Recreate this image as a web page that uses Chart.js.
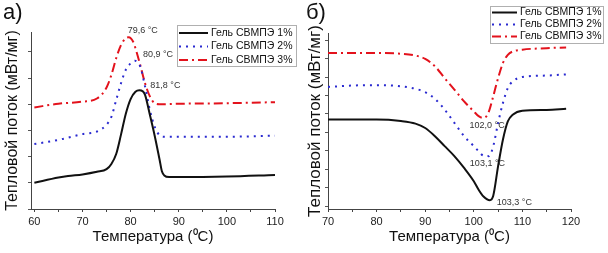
<!DOCTYPE html>
<html>
<head>
<meta charset="utf-8">
<script src="https://cdn.jsdelivr.net/npm/chart.js@4"></script>
<style>
  body { margin: 0; background: #fff; }
  .wrap { display: flex; width: 608px; height: 253px; }
  .panel { position: relative; width: 304px; height: 253px; }
</style>
</head>
<body>
<div class="wrap">
  <div class="panel"><canvas id="chartA" width="304" height="253"></canvas></div>
  <div class="panel"><canvas id="chartB" width="304" height="253"></canvas></div>
</div>
<script>
const seriesLabels = ['Гель СВМПЭ 1%', 'Гель СВМПЭ 2%', 'Гель СВМПЭ 3%'];

// panel а) - heating
const tempA1 = [60, 65, 67, 70, 73, 75, 76, 77, 78, 79, 80, 81, 81.8, 82.5, 83, 84, 85, 86, 86.5, 87, 88, 90, 100, 110];
const flowA1 = [0.50, 0.60, 0.63, 0.66, 0.71, 0.76, 0.86, 1.05, 1.42, 1.82, 2.10, 2.24, 2.27, 2.25, 2.18, 1.80, 1.40, 0.95, 0.72, 0.64, 0.61, 0.61, 0.62, 0.65];
const tempA2 = [60, 65, 70, 73, 75, 76, 77, 78, 79, 80, 80.9, 82, 83, 84, 85, 86, 87, 90, 100, 110];
const flowA2 = [1.24, 1.32, 1.43, 1.48, 1.61, 1.76, 2.08, 2.40, 2.66, 2.78, 2.83, 2.72, 2.34, 1.89, 1.57, 1.41, 1.38, 1.38, 1.38, 1.40];
const tempA3 = [60, 65, 70, 73, 75, 76, 77, 78, 79, 79.6, 80.5, 81, 82, 83, 84, 85, 86, 90, 100, 110];
const flowA3 = [1.94, 2.01, 2.05, 2.11, 2.32, 2.56, 2.88, 3.13, 3.26, 3.28, 3.20, 3.07, 2.75, 2.40, 2.15, 2.02, 2.00, 2.01, 2.02, 2.04];
const xTicksA = [60, 65, 70, 75, 80, 85, 90, 95, 100, 105, 110];
const yTicksA = [0, 0.5, 1, 1.5, 2, 2.5, 3];
const peakTempsA = [81.8, 80.9, 79.6];
const peakFlowsA = [2.27, 2.83, 3.28];
const peakLabelsA = ['81,8 °C', '80,9 °C', '79,6 °C'];

// panel б) - cooling
const tempB1 = [70, 75, 80, 85, 88, 90, 92, 94, 96, 98, 100, 101, 102, 103.3, 104, 105, 106, 107, 108, 110, 115, 119];
const flowB1 = [1.85, 1.85, 1.85, 1.81, 1.74, 1.62, 1.40, 1.13, 0.86, 0.54, 0.18, -0.05, -0.23, -0.33, -0.21, 0.59, 1.31, 1.80, 1.98, 2.09, 2.11, 2.14];
const tempB2 = [70, 75, 80, 85, 88, 90, 92, 94, 96, 98, 100, 101, 102, 103.1, 104, 105, 106, 107, 108, 110, 115, 119];
const flowB2 = [2.73, 2.77, 2.78, 2.75, 2.68, 2.59, 2.41, 2.12, 1.76, 1.40, 1.13, 0.99, 0.87, 0.86, 1.13, 1.76, 2.30, 2.70, 2.88, 3.00, 3.04, 3.07];
const tempB3 = [70, 75, 80, 85, 88, 90, 92, 94, 96, 98, 100, 101, 102, 103, 104, 105, 106, 107, 108, 110, 115, 119];
const flowB3 = [3.65, 3.65, 3.65, 3.63, 3.58, 3.49, 3.29, 2.97, 2.66, 2.34, 2.07, 1.94, 1.89, 2.03, 2.48, 2.97, 3.38, 3.60, 3.69, 3.74, 3.78, 3.80];
const xTicksB = [70, 75, 80, 85, 90, 95, 100, 105, 110, 115, 120];
const yTicksB = [-0.5, 0, 0.5, 1, 1.5, 2, 2.5, 3, 3.5, 4];
const peakTempsB = [103.3, 103.1, 102.0];
const peakFlowsB = [-0.33, 0.86, 1.89];
const peakLabelsB = ['103,3 °C', '103,1 °C', '102,0 °C'];

Chart.defaults.font.family = "'Liberation Sans', Arial, sans-serif";
Chart.defaults.color = '#222';

const zip = (xs, ys) => xs.map((x, i) => ({ x: x, y: ys[i] }));

const lineStyles = [
  { borderColor: '#111111', borderWidth: 2, borderDash: [] },
  { borderColor: '#2a2ad0', borderWidth: 2, borderDash: [2, 5] },
  { borderColor: '#e3121c', borderWidth: 2, borderDash: [9, 4, 2, 4] }
];

// panel letter, peak labels and the boxed legend
const decorPlugin = {
  id: 'decor',
  afterDraw(chart, args, o) {
    const ctx = chart.ctx;
    const xs = chart.scales.x, ys = chart.scales.y;
    ctx.save();
    ctx.fillStyle = '#111';
    ctx.font = "22px 'Liberation Sans', Arial, sans-serif";
    ctx.textBaseline = 'top';
    ctx.fillText(o.letter, o.letterPos[0], o.letterPos[1]);

    ctx.font = "9px 'Liberation Sans', Arial, sans-serif";
    ctx.fillStyle = '#333';
    ctx.textBaseline = 'middle';
    o.peaks.t.forEach((t, i) => {
      const px = xs.getPixelForValue(t) + o.peaks.off[i][0];
      const py = ys.getPixelForValue(o.peaks.f[i]) + o.peaks.off[i][1];
      ctx.fillText(o.peaks.labels[i], px, py);
    });

    const lg = o.legend;
    ctx.fillStyle = '#fff';
    ctx.fillRect(lg.x, lg.y, lg.w, lg.h);
    ctx.strokeStyle = '#b0b0b0';
    ctx.lineWidth = 1;
    ctx.strokeRect(lg.x + 0.5, lg.y + 0.5, lg.w, lg.h);
    ctx.font = "10.5px 'Liberation Sans', Arial, sans-serif";
    chart.data.datasets.forEach((ds, i) => {
      const ry = lg.y + lg.row0 + i * lg.rowH;
      ctx.beginPath();
      ctx.setLineDash(ds.borderDash);
      ctx.strokeStyle = ds.borderColor;
      ctx.lineWidth = 2;
      ctx.moveTo(lg.x + 2, ry);
      ctx.lineTo(lg.x + 2 + lg.sample, ry);
      ctx.stroke();
      ctx.setLineDash([]);
      ctx.fillStyle = '#111';
      ctx.fillText(ds.label, lg.x + lg.sample + 5, ry);
    });
    ctx.restore();
  }
};

function makeChart(id, p) {
  return new Chart(document.getElementById(id), {
    type: 'line',
    data: {
      datasets: p.series.map((s, i) => Object.assign({
        label: seriesLabels[i],
        data: zip(s[0], s[1]),
        fill: false,
        pointRadius: 0,
        tension: 0.35,
        cubicInterpolationMode: 'monotone'
      }, lineStyles[i]))
    },
    options: {
      responsive: false,
      animation: false,
      layout: { padding: p.padding },
      plugins: {
        legend: { display: false },
        tooltip: { enabled: false },
        decor: p.decor
      },
      scales: {
        x: {
          type: 'linear',
          min: p.xRange[0],
          max: p.xRange[1],
          bounds: 'data',
          afterBuildTicks: s => { s.ticks = p.xTicks.map(v => ({ value: v })); },
          afterFit: s => { s.height = 44; },
          ticks: {
            font: { size: 11 },
            color: '#222',
            padding: 3,
            maxRotation: 0,
            autoSkip: false,
            callback: v => (v % 10 === 0 ? String(v) : '')
          },
          grid: { drawOnChartArea: false, drawTicks: true, tickLength: 3, tickColor: '#444' },
          border: { color: '#444', width: 1 },
          title: {
            display: true,
            text: 'Температура (⁰C)',
            font: { size: 15 },
            color: '#111',
            padding: { top: 0, bottom: 7 }
          }
        },
        y: {
          type: 'linear',
          min: p.yRange[0],
          max: p.yRange[1],
          bounds: 'data',
          afterBuildTicks: s => { s.ticks = p.yTicks.map(v => ({ value: v })); },
          afterFit: s => { s.width = p.yWidth; },
          ticks: { display: false },
          grid: { drawOnChartArea: false, drawTicks: true, tickLength: 3, tickColor: '#555' },
          border: { color: '#444', width: 1 },
          title: {
            display: true,
            text: 'Тепловой поток (мВт/мг)',
            font: { size: p.yTitleSize },
            color: '#111',
            padding: { top: p.yTitlePad, bottom: 0 }
          }
        }
      }
    },
    plugins: [decorPlugin]
  });
}

makeChart('chartA', {
  series: [[tempA1, flowA1], [tempA2, flowA2], [tempA3, flowA3]],
  xRange: [59.3, 110],
  yRange: [0, 3.38],
  xTicks: xTicksA,
  yTicks: yTicksA,
  padding: { left: 0, right: 29, top: 32, bottom: 0 },
  yWidth: 31,
  yTitleSize: 16,
  yTitlePad: 3,
  decor: {
    letter: 'а)',
    letterPos: [3, 2],
    peaks: { t: peakTempsA, f: peakFlowsA, labels: peakLabelsA, off: [[11, -5], [8, -6], [-1, -7]] },
    legend: { x: 177, y: 25, w: 119, h: 41, row0: 8, rowH: 13.5, sample: 29 }
  }
});

makeChart('chartB', {
  series: [[tempB1, flowB1], [tempB2, flowB2], [tempB3, flowB3]],
  xRange: [70, 120],
  yRange: [-0.57, 4.19],
  xTicks: xTicksB,
  yTicks: yTicksB,
  padding: { left: 0, right: 37, top: 33, bottom: 0 },
  yWidth: 24,
  yTitleSize: 17,
  yTitlePad: 1,
  decor: {
    letter: 'б)',
    letterPos: [2, 2],
    peaks: { t: peakTempsB, f: peakFlowsB, labels: peakLabelsB, off: [[7, 2], [-19, 7], [-14, 7]] },
    legend: { x: 186, y: 6, w: 113, h: 37, row0: 6.5, rowH: 12, sample: 25 }
  }
});
</script>
</body>
</html>
